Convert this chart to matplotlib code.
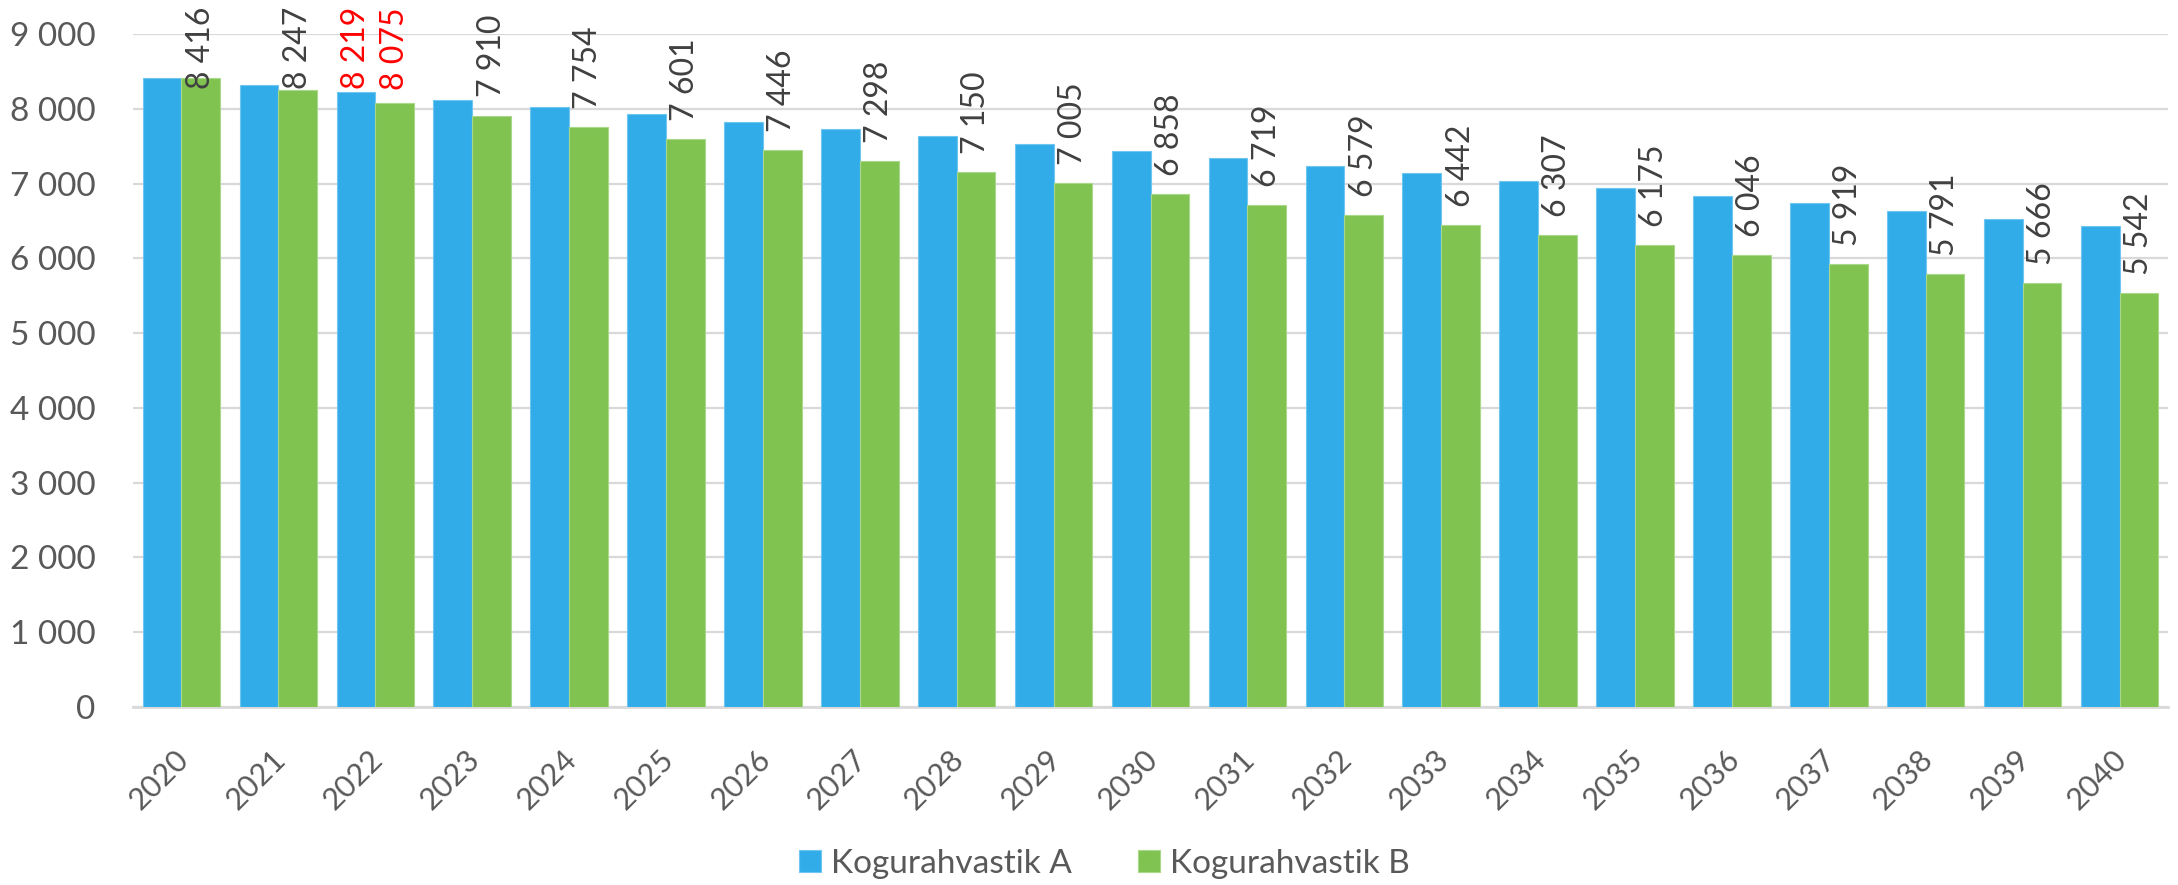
import matplotlib
matplotlib.use("Agg")
import matplotlib.pyplot as plt
from matplotlib.transforms import ScaledTranslation
import numpy as np

# --- DATA ---
years = [str(y) for y in range(2020, 2041)]
series_a = [8416, 8318, 8219, 8118, 8024, 7926, 7828, 7730, 7632, 7534, 7436,
            7338, 7238, 7138, 7035, 6941, 6839, 6741, 6638, 6531, 6438]
series_b = [8416, 8247, 8075, 7910, 7754, 7601, 7446, 7298, 7150, 7005, 6858,
            6719, 6579, 6442, 6307, 6175, 6046, 5919, 5791, 5666, 5542]
name_a = "Kogurahvastik A"
name_b = "Kogurahvastik B"
highlight_year = "2022"

BLUE = "#32ACE9"
GREEN = "#80C350"
TXT = "#595959"
GRID = "#D9D9D9"

plt.rcParams['font.family'] = ['Lato', 'DejaVu Sans']


def fmt(v):
    return f"{v:,}".replace(",", " ")


W, H, DPI = 2178, 885, 100
fig = plt.figure(figsize=(W / DPI, H / DPI), dpi=DPI)
ax = fig.add_axes([133 / W, 1 - 707 / H, (2168 - 133) / W, (707 - 34) / H])

x = np.arange(len(years))
bw = 0.4
ax.bar(x - bw / 2, series_a, bw, color=BLUE, edgecolor="#6FC6F1", linewidth=0.8,
       label=name_a, zorder=3)
ax.bar(x + bw / 2, series_b, bw, color=GREEN, edgecolor="#A9D88C", linewidth=0.8,
       label=name_b, zorder=3)

ax.set_xlim(-0.5, len(years) - 0.5)
ax.set_ylim(0, 9000)
ax.set_yticks(range(0, 9001, 1000))
ax.set_yticklabels([fmt(v) for v in range(0, 9001, 1000)])
ax.set_xticks(x)
ax.set_xticklabels(years, rotation=45, ha="right", rotation_mode="anchor")

ax.grid(axis="y", color=GRID, linewidth=1.6, zorder=0)
for s in ["top", "right", "left"]:
    ax.spines[s].set_visible(False)
ax.spines["bottom"].set_color(GRID)
ax.spines["bottom"].set_linewidth(2)
ax.tick_params(axis="both", length=0, colors=TXT)
ax.tick_params(axis="y", pad=27, labelsize=24)
ax.tick_params(axis="x", pad=27, labelsize=22)
shift_left = ScaledTranslation(-7 / DPI, 0, fig.dpi_scale_trans)
for lab in ax.get_xticklabels():
    lab.set_transform(lab.get_transform() + shift_left)

# data labels
OFF = 13
labels = []
hi = years.index(highlight_year)
for i, v in enumerate(series_b):
    c = "red" if i == hi else "#404040"
    labels.append(ax.annotate(fmt(v), xy=(x[i] + bw / 2, v), xytext=(0, OFF),
                              textcoords="offset points", rotation=90,
                              ha="center", va="bottom", fontsize=23, color=c,
                              annotation_clip=False))
labels.append(ax.annotate(fmt(series_a[hi]), xy=(x[hi] - bw / 2, series_a[hi]),
                          xytext=(0, OFF), textcoords="offset points", rotation=90,
                          ha="center", va="bottom", fontsize=23, color="red",
                          annotation_clip=False))

# keep labels inside the figure (pushed down like the original)
fig.canvas.draw()
r = fig.canvas.get_renderer()
for t in labels:
    bb = t.get_window_extent(r)
    limit = H - 7
    if bb.y1 > limit:
        shift = (bb.y1 - limit) * 72 / DPI
        t.xyann = (0, OFF - shift)

fig.legend(loc="center", bbox_to_anchor=(0.507, 0.024), ncol=2, frameon=False,
           fontsize=24, labelcolor=TXT, handlelength=0.65, handleheight=0.65,
           handletextpad=0.3, columnspacing=2.0)

fig.savefig("out.png", dpi=DPI)
